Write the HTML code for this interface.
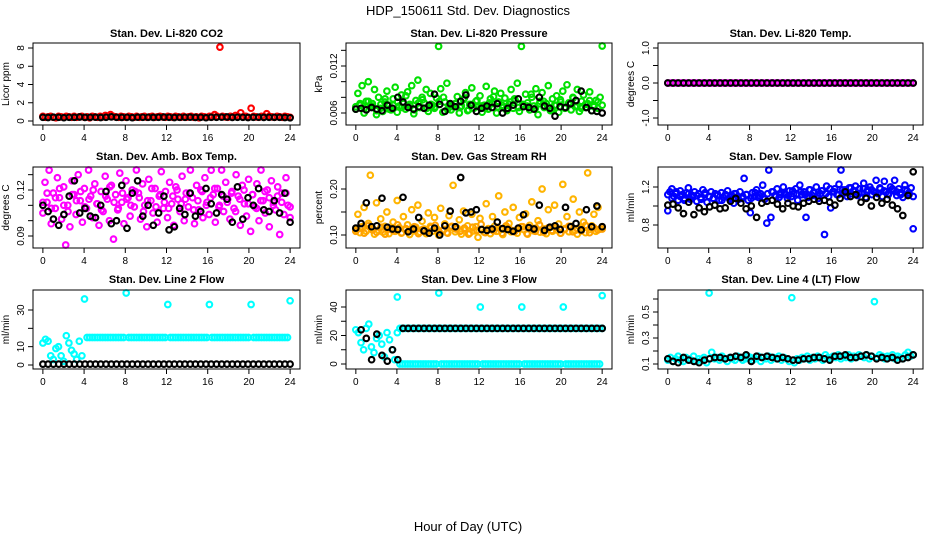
<!DOCTYPE html>
<html><head><meta charset="utf-8"><style>
html,body{margin:0;padding:0;background:#fff;}
svg{display:block;font-family:"Liberation Sans",Arial,sans-serif;}
.pt{fill:none;stroke-width:2.1;}
</style></head><body>
<svg id="chart" width="936" height="540" viewBox="0 0 936 540">
<text x="468" y="15" text-anchor="middle" font-size="13">HDP_150611  Std. Dev. Diagnostics</text>
<text x="468" y="531" text-anchor="middle" font-size="13">Hour of Day (UTC)</text>
<g id="panels"></g>
</svg>
<script>
// ---- data ----
const hourTicks = [0,4,8,12,16,20,24];
const co2Color = [0.5,0.4,0.45,0.5,0.4,0.35,0.5,0.45,0.4,0.5,0.45,0.4,0.5,0.4,0.45,0.5,0.4,0.45,0.35,0.5,0.45,0.4,0.5,0.45,0.6,0.5,0.7,0.5,0.45,0.4,0.5,0.45,0.4,0.5,0.45,0.4,0.5,0.4,0.45,0.5,0.4,0.45,0.5,0.4,0.45,0.5,0.45,0.4,0.5,0.45,0.4,0.5,0.45,0.4,0.5,0.4,0.45,0.5,0.4,0.45,0.35,0.5,0.45,0.4,0.5,0.45,0.7,0.5,8.1,0.5,0.45,0.4,0.5,0.45,0.6,0.5,0.9,0.45,0.5,0.4,1.4,0.5,0.45,0.4,0.5,0.45,0.8,0.5,0.45,0.4,0.5,0.45,0.4,0.5,0.45,0.4];
const co2Black = [0.4,0.38,0.42,0.4,0.36,0.41,0.4,0.44,0.39,0.4,0.42,0.38,0.41,0.45,0.4,0.39,0.4,0.37,0.42,0.4,0.41,0.39,0.4,0.43,0.4,0.38,0.41,0.4,0.42,0.39,0.4,0.36,0.41,0.4,0.42,0.44,0.39,0.4,0.41,0.38,0.4,0.42,0.39,0.4,0.41,0.4,0.38,0.35];
const presColor = [0.0065,0.0085,0.0070,0.0095,0.0060,0.0075,0.0100,0.0068,0.0072,0.0090,0.0058,0.0080,0.0066,0.0062,0.0074,0.0088,0.0070,0.0064,0.0078,0.0093,0.0061,0.0069,0.0083,0.0072,0.0065,0.0087,0.0071,0.0095,0.0059,0.0076,0.0102,0.0067,0.0080,0.0073,0.0090,0.0062,0.0085,0.0070,0.0066,0.0079,0.0145,0.0091,0.0061,0.0074,0.0098,0.0070,0.0064,0.0068,0.0072,0.0081,0.0060,0.0069,0.0077,0.0086,0.0063,0.0071,0.0092,0.0066,0.0075,0.0068,0.0082,0.0061,0.0070,0.0094,0.0065,0.0078,0.0072,0.0088,0.0060,0.0074,0.0085,0.0067,0.0079,0.0063,0.0071,0.0090,0.0066,0.0076,0.0098,0.0062,0.0145,0.0070,0.0084,0.0073,0.0064,0.0080,0.0069,0.0091,0.0058,0.0075,0.0086,0.0067,0.0072,0.0095,0.0063,0.0078,0.0070,0.0082,0.0061,0.0074,0.0088,0.0066,0.0096,0.0071,0.0064,0.0079,0.0068,0.0090,0.0062,0.0075,0.0083,0.0067,0.0072,0.0087,0.0063,0.0070,0.0076,0.0066,0.0080,0.0148];
const presColorB = [0.0068,0.0072,0.0066,0.0075,0.0069,0.0063,0.0071,0.0078,0.0065,0.0070,0.0074,0.0067,0.0082,0.0069,0.0064,0.0073,0.0077,0.0066,0.0071,0.0068,0.0075,0.0080,0.0065,0.0070,0.0072,0.0067,0.0079,0.0064,0.0071,0.0076,0.0069,0.0066,0.0073,0.0081,0.0068,0.0070,0.0065,0.0074,0.0078,0.0067,0.0071,0.0069,0.0084,0.0066,0.0072,0.0075,0.0068,0.0064,0.0070,0.0077,0.0067,0.0073,0.0080,0.0069,0.0066,0.0071,0.0076,0.0068,0.0074,0.0070];
const presBlack = [0.0065,0.0066,0.0064,0.0067,0.0065,0.0063,0.0070,0.0066,0.0080,0.0074,0.0067,0.0065,0.0068,0.0066,0.0070,0.0084,0.0071,0.0062,0.0072,0.0068,0.0075,0.0083,0.0070,0.0062,0.0066,0.0069,0.0067,0.0072,0.0060,0.0066,0.0070,0.0078,0.0068,0.0067,0.0065,0.0080,0.0069,0.0066,0.0056,0.0068,0.0067,0.0072,0.0076,0.0088,0.0067,0.0063,0.0062,0.0060];
const tempColor = new Array(96).fill(0);
const tempBlack = new Array(48).fill(0);
const boxColor = [0.105,0.125,0.112,0.133,0.098,0.118,0.108,0.128,0.115,0.101,0.122,0.084,0.110,0.096,0.126,0.117,0.104,0.130,0.113,0.099,0.121,0.108,0.134,0.116,0.102,0.124,0.111,0.097,0.119,0.106,0.129,0.114,0.100,0.123,0.088,0.117,0.107,0.131,0.112,0.098,0.126,0.115,0.103,0.120,0.109,0.145,0.118,0.101,0.124,0.110,0.096,0.127,0.113,0.105,0.121,0.099,0.116,0.132,0.108,0.119,0.102,0.125,0.111,0.097,0.122,0.114,0.106,0.129,0.100,0.118,0.109,0.135,0.115,0.098,0.123,0.107,0.120,0.102,0.128,0.112,0.104,0.133,0.117,0.099,0.121,0.110,0.145,0.106,0.125,0.114,0.101,0.119,0.108,0.130,0.116,0.097,0.123,0.111,0.103,0.127,0.093,0.117,0.109,0.124,0.100,0.138,0.113,0.105,0.120,0.096,0.126,0.112,0.107,0.122,0.091,0.118,0.104,0.128,0.110,0.102];
const boxColorB = [0.112,0.118,0.108,0.115,0.121,0.110,0.106,0.117,0.113,0.119,0.109,0.114,0.120,0.111,0.107,0.116,0.122,0.112,0.108,0.118,0.114,0.110,0.119,0.115,0.106,0.113,0.121,0.109,0.117,0.112,0.108,0.116,0.120,0.111,0.114,0.118,0.107,0.113,0.119,0.110,0.115,0.121,0.109,0.116,0.112,0.118,0.106,0.114,0.120,0.111,0.117,0.108,0.113,0.119,0.115,0.110,0.116,0.112,0.118,0.109];
const boxBlack = [0.110,0.106,0.101,0.097,0.104,0.116,0.126,0.105,0.108,0.103,0.102,0.110,0.119,0.098,0.100,0.123,0.095,0.118,0.126,0.103,0.110,0.097,0.105,0.116,0.094,0.096,0.108,0.104,0.118,0.103,0.106,0.121,0.111,0.105,0.117,0.114,0.099,0.122,0.101,0.115,0.110,0.121,0.107,0.106,0.113,0.105,0.118,0.099];
const rhColor = [0.112,0.145,0.105,0.118,0.160,0.108,0.125,0.230,0.115,0.102,0.170,0.110,0.135,0.106,0.119,0.150,0.103,0.113,0.128,0.108,0.175,0.116,0.104,0.140,0.111,0.122,0.101,0.155,0.109,0.117,0.165,0.106,0.130,0.113,0.103,0.148,0.119,0.108,0.138,0.114,0.100,0.158,0.110,0.124,0.105,0.142,0.117,0.208,0.107,0.115,0.133,0.102,0.152,0.112,0.120,0.104,0.145,0.109,0.118,0.095,0.136,0.111,0.106,0.168,0.114,0.103,0.140,0.119,0.108,0.185,0.113,0.101,0.150,0.116,0.125,0.107,0.160,0.110,0.104,0.138,0.118,0.112,0.146,0.102,0.121,0.172,0.109,0.115,0.131,0.106,0.200,0.113,0.103,0.155,0.117,0.108,0.165,0.111,0.124,0.104,0.210,0.114,0.140,0.107,0.119,0.178,0.110,0.102,0.150,0.116,0.128,0.105,0.235,0.112,0.120,0.145,0.108,0.160,0.113,0.118];
const rhColorB = [0.108,0.115,0.104,0.120,0.111,0.106,0.117,0.102,0.113,0.109,0.122,0.105,0.114,0.110,0.118,0.103,0.112,0.107,0.116,0.121,0.106,0.111,0.104,0.119,0.113,0.108,0.115,0.102,0.117,0.110,0.123,0.105,0.112,0.109,0.116,0.104,0.120,0.111,0.107,0.114,0.118,0.103,0.113,0.108,0.122,0.106,0.115,0.110,0.117,0.104,0.112,0.119,0.107,0.114,0.109,0.121,0.105,0.116,0.111,0.113];
const rhBlack = [0.115,0.125,0.170,0.118,0.120,0.180,0.117,0.113,0.112,0.182,0.107,0.113,0.138,0.109,0.104,0.115,0.100,0.120,0.152,0.118,0.225,0.148,0.150,0.155,0.112,0.110,0.113,0.128,0.114,0.112,0.108,0.115,0.144,0.116,0.113,0.165,0.110,0.117,0.120,0.112,0.160,0.118,0.125,0.111,0.155,0.118,0.163,0.118];
const flowColor = [0.95,1.15,1.18,1.10,1.13,1.06,1.16,1.12,1.08,1.14,1.19,1.07,1.11,1.15,1.05,1.13,1.09,1.17,1.12,1.04,1.10,1.15,1.08,1.13,1.11,1.06,1.14,1.09,1.12,1.16,1.07,1.11,1.03,1.13,1.10,1.15,1.08,1.29,1.12,1.06,0.93,1.14,1.10,1.17,1.09,1.13,1.22,1.07,0.82,1.40,0.88,1.15,1.11,1.18,1.09,1.14,1.20,1.12,1.08,1.16,1.10,1.13,1.18,1.06,1.22,1.12,1.15,0.88,1.09,1.17,1.11,1.14,1.20,1.08,1.13,1.16,0.70,1.21,1.10,0.98,1.15,1.18,1.12,1.23,1.40,1.14,1.17,1.10,1.19,1.13,1.16,1.21,1.11,1.18,1.14,1.24,1.09,1.17,1.20,1.12,1.15,1.27,1.13,1.18,1.10,1.26,1.15,1.12,1.20,1.16,1.27,1.11,1.18,1.14,1.09,1.22,1.16,1.12,1.19,0.76];
const flowColorB = [1.12,1.08,1.15,1.10,1.06,1.13,1.09,1.11,1.07,1.14,1.10,1.08,1.12,1.06,1.11,1.09,1.13,1.07,1.10,1.12,1.08,1.14,1.11,1.09,1.13,1.15,1.10,1.12,1.14,1.11,1.16,1.13,1.15,1.12,1.17,1.14,1.11,1.16,1.13,1.18,1.15,1.12,1.17,1.14,1.19,1.16,1.13,1.18,1.15,1.17,1.14,1.19,1.16,1.13,1.18,1.15,1.12,1.17,1.14,1.10];
const flowBlack = [1.01,1.02,0.98,0.92,1.04,0.91,0.98,0.94,0.99,1.01,0.97,0.98,1.05,1.08,1.03,0.97,1.00,0.88,1.03,1.05,1.06,1.02,0.97,1.03,1.00,0.99,1.03,1.05,1.07,1.05,1.06,1.04,1.01,1.08,1.15,1.10,1.12,1.04,1.08,1.00,1.09,1.03,1.07,1.01,0.97,0.90,1.11,1.36];
const line2Color = [12,14,13,5,3,9,10,5,2,16,12,8,6,3,13,5,36,15,15,15,15,15,15,15,15,15,15,15,15,15,15,15,40,15,15,15,15,15,15,15,15,15,15,15,15,15,15,15,33,15,15,15,15,15,15,15,15,15,15,15,15,15,15,15,33,15,15,15,15,15,15,15,15,15,15,15,15,15,15,15,33,15,15,15,15,15,15,15,15,15,15,15,15,15,15,35];
const line2Black = new Array(48).fill(0.5);
const line3Color = [24,22,15,10,25,28,12,8,18,20,14,5,22,17,10,3,47,0,0,0,0,0,0,0,0,0,0,0,0,0,0,0,50,0,0,0,0,0,0,0,0,0,0,0,0,0,0,0,40,0,0,0,0,0,0,0,0,0,0,0,0,0,0,0,40,0,0,0,0,0,0,0,0,0,0,0,0,0,0,0,40,0,0,0,0,0,0,0,0,0,0,0,0,0,0,48];
const line3Upper = [null,null,null,null,null,null,null,null,null,null,null,null,null,null,null,null,22,25,25,25,25,25,25,25,25,25,25,25,25,25,25,25,25,25,25,25,25,25,25,25,25,25,25,25,25,25,25,25,25,25,25,25,25,25,25,25,25,25,25,25,25,25,25,25,25,25,25,25,25,25,25,25,25,25,25,25,25,25,25,25,25,25,25,25,25,25,25,25,25,25,25,25,25,25,25,25];
const line3Black = [null,24,18,3,21,6,2,10,3,25,25,25,25,25,25,25,25,25,25,25,25,25,25,25,25,25,25,25,25,25,25,25,25,25,25,25,25,25,25,25,25,25,25,25,25,25,25,25];
const line4Color = [0.13,0.15,0.12,0.14,0.16,0.13,0.12,0.15,0.14,0.13,0.16,0.12,0.14,0.13,0.15,0.11,0.66,0.19,0.14,0.15,0.13,0.16,0.14,0.12,0.15,0.14,0.13,0.16,0.15,0.13,0.14,0.16,0.15,0.13,0.14,0.16,0.12,0.15,0.14,0.16,0.13,0.15,0.14,0.16,0.13,0.15,0.14,0.12,0.61,0.11,0.14,0.13,0.15,0.14,0.16,0.13,0.15,0.14,0.16,0.15,0.13,0.17,0.15,0.14,0.16,0.15,0.17,0.14,0.16,0.15,0.17,0.14,0.16,0.15,0.17,0.16,0.15,0.17,0.14,0.16,0.58,0.15,0.17,0.16,0.14,0.16,0.15,0.17,0.14,0.16,0.15,0.14,0.17,0.19,0.16,0.17];
const line4Black = [0.14,0.12,0.11,0.15,0.13,0.12,0.11,0.13,0.14,0.15,0.15,0.14,0.15,0.16,0.15,0.17,0.12,0.16,0.15,0.16,0.15,0.14,0.15,0.14,0.13,0.13,0.14,0.14,0.15,0.15,0.14,0.13,0.16,0.16,0.17,0.15,0.15,0.16,0.17,0.16,0.14,0.15,0.14,0.15,0.13,0.14,0.15,0.17];

// ---- layout ----
const cols = [[33,300],[346,612],[658,923]];
const rows = [[43,125,"37"],[167,248,"160"],[290,369,"283"]];
const panels = [
 {name:"co2",title:"Stan. Dev. Li-820 CO2",ylab:"Licor ppm",c:0,r:0,v1:0,p1:121,v2:8,p2:48,ticks:[0,2,4,6,8],labels:["0","2","4","6","8"],series:[[co2Color,"#ff0000"],[co2Black,"#000"]]},
 {name:"pressure",title:"Stan. Dev. Li-820 Pressure",ylab:"kPa",c:1,r:0,v1:0.006,p1:113,v2:0.012,p2:66,ticks:[0.006,0.008,0.010,0.012,0.014],labels:["0.006","","","0.012",""],series:[[presColor,"#00e000"],[presColorB,"#00e000"],[presBlack,"#000"]]},
 {name:"licor-temp",title:"Stan. Dev. Li-820 Temp.",ylab:"degrees C",c:2,r:0,v1:0,p1:83,v2:1,p2:48,ticks:[-1,-0.5,0,0.5,1],labels:["-1.0","","0.0","","1.0"],series:[[tempColor,"#ff00ff"],[tempBlack,"#000"]]},
 {name:"box-temp",title:"Stan. Dev. Amb. Box Temp.",ylab:"degrees C",c:0,r:1,v1:0.09,p1:236,v2:0.12,p2:190,ticks:[0.09,0.10,0.11,0.12,0.13,0.14],labels:["0.09","","","0.12","",""],series:[[boxColor,"#ff00ff"],[boxColorB,"#ff00ff"],[boxBlack,"#000"]]},
 {name:"rh",title:"Stan. Dev. Gas Stream RH",ylab:"percent",c:1,r:1,v1:0.10,p1:235,v2:0.20,p2:189,ticks:[0.10,0.15,0.20],labels:["0.10","","0.20"],series:[[rhColor,"#ffb400"],[rhColorB,"#ffa000"],[rhBlack,"#000"]]},
 {name:"sample-flow",title:"Stan. Dev. Sample Flow",ylab:"ml/min",c:2,r:1,v1:0.8,p1:225,v2:1.2,p2:187,ticks:[0.8,1.0,1.2],labels:["0.8","","1.2"],series:[[flowColor,"#0000ff"],[flowColorB,"#0000ff"],[flowBlack,"#000"]]},
 {name:"line2",title:"Stan. Dev. Line 2 Flow",ylab:"ml/min",c:0,r:2,v1:0,p1:365,v2:30,p2:310,ticks:[0,10,20,30],labels:["0","10","","30"],series:[[line2Color,"#00ffff"],[line2Black,"#000"]]},
 {name:"line3",title:"Stan. Dev. Line 3 Flow",ylab:"ml/min",c:1,r:2,v1:0,p1:364,v2:40,p2:307,ticks:[0,10,20,30,40],labels:["0","","20","","40"],series:[[line3Color,"#00ffff"],[line3Upper,"#00ffff"],[line3Black,"#000"]]},
 {name:"line4",title:"Stan. Dev. Line 4 (LT) Flow",ylab:"ml/min",c:2,r:2,v1:0.1,p1:364,v2:0.5,p2:312,ticks:[0.1,0.2,0.3,0.4,0.5,0.6],labels:["0.1","","0.3","","0.5",""],series:[[line4Color,"#00ffff"],[line4Black,"#000"]]}
];
const NS="http://www.w3.org/2000/svg";
const root=document.getElementById("panels");
function mk(tag,attrs,parent){const e=document.createElementNS(NS,tag);for(const k in attrs)e.setAttribute(k,attrs[k]);parent.appendChild(e);return e;}
panels.forEach(p=>{
  const [bx0,bx1]=cols[p.c];const [by0,by1,ty]=rows[p.r];
  const w=bx1-bx0;const dx0=bx0+w*0.037,dx1=bx1-w*0.037;
  const xs=h=>dx0+(h/24)*(dx1-dx0);
  const ys=v=>p.p1+(v-p.v1)*(p.p2-p.p1)/(p.v2-p.v1);
  const g=mk("g",{},root);
  
  
  const t=mk("text",{x:(bx0+bx1)/2,y:ty,"text-anchor":"middle","font-size":"11","font-weight":"bold"},g);t.textContent=p.title;
  
  
  const yl=mk("text",{x:0,y:0,transform:`translate(${bx0-24},${(by0+by1)/2}) rotate(-90)`,"text-anchor":"middle","font-size":"10"},g);yl.textContent=p.ylab;
  
  
  p.series.forEach((s,si)=>{
    const arr=s[0],n=arr.length;
    const sg=mk("g",{stroke:s[1],class:"pt"},g);
    
    
    arr.forEach((v,i)=>{
      if(v===null)return;
      const h=i*24/(n-1);
      const cy=Math.max(by0+3,Math.min(by1-3,ys(v)));
      const c=mk("circle",{cx:xs(h).toFixed(1),cy:cy.toFixed(1),r:2.8},sg);
      
      
    });
  });
  const b=mk("rect",{x:bx0,y:by0,width:w,height:by1-by0,fill:"none",stroke:"#000","stroke-width":1},g);
  
  
  const xa=mk("g",{},g);
  
  
  hourTicks.forEach(h=>{
    mk("line",{x1:xs(h),x2:xs(h),y1:by1,y2:by1+5,stroke:"#000"},xa);
    const tl=mk("text",{x:xs(h),y:by1+16,"text-anchor":"middle","font-size":"10"},xa);tl.textContent=h;
  });
  const ya=mk("g",{},g);
  
  
  p.ticks.forEach((v,i)=>{
    const y=ys(v);if(y<by0-1||y>by1+1)return;
    mk("line",{x1:bx0-5,x2:bx0,y1:y,y2:y,stroke:"#000"},ya);
    if(p.labels[i]){const tl=mk("text",{x:0,y:0,transform:`translate(${bx0-9},${y}) rotate(-90)`,"text-anchor":"middle","font-size":"10"},ya);tl.textContent=p.labels[i];}
  });
});
</script>
</body></html>
